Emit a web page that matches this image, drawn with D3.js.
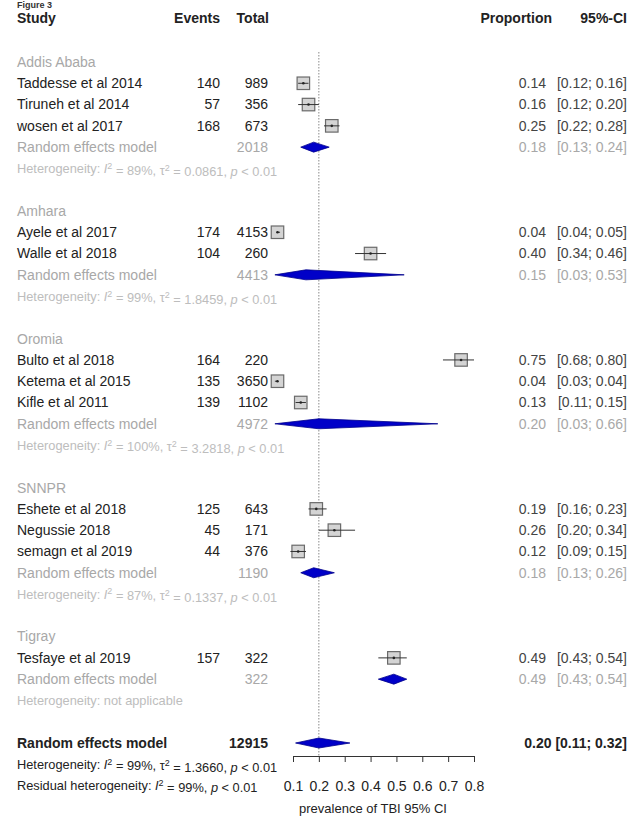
<!DOCTYPE html>
<html><head><meta charset="utf-8">
<script src="https://cdn.jsdelivr.net/npm/d3@7"></script>
<style>
body{margin:0;background:#fff;}
svg{display:block;font-family:"Liberation Sans",Arial,sans-serif;}
</style></head>
<body><svg id="chart" width="634" height="819"></svg>
<script>
// ---------- data ----------
const groups = ["Addis Ababa","Amhara","Oromia","SNNPR","Tigray"];
const studies = ["Taddesse et al 2014","Tiruneh et al 2014","wosen et al 2017",
  "Ayele et al 2017","Walle et al 2018",
  "Bulto et al 2018","Ketema et al 2015","Kifle et al 2011",
  "Eshete et al 2018","Negussie 2018","semagn et al 2019",
  "Tesfaye et al 2019"];
const studyGroup = [0,0,0,1,1,2,2,2,3,3,3,4];
const events = [140,57,168,174,104,164,135,139,125,45,44,157];
const totals = [989,356,673,4153,260,220,3650,1102,643,171,376,322];
const props  = [0.14,0.16,0.25,0.04,0.40,0.75,0.04,0.13,0.19,0.26,0.12,0.49];
const lowers = [0.12,0.12,0.22,0.04,0.34,0.68,0.03,0.11,0.16,0.20,0.09,0.43];
const uppers = [0.16,0.20,0.28,0.05,0.46,0.80,0.04,0.15,0.23,0.34,0.15,0.54];
const propLabels = ["0.14","0.16","0.25","0.04","0.40","0.75","0.04","0.13","0.19","0.26","0.12","0.49"];
const ciLabels = ["[0.12; 0.16]","[0.12; 0.20]","[0.22; 0.28]","[0.04; 0.05]","[0.34; 0.46]","[0.68; 0.80]",
  "[0.03; 0.04]","[0.11; 0.15]","[0.16; 0.23]","[0.20; 0.34]","[0.09; 0.15]","[0.43; 0.54]"];
const groupTotals = [2018,4413,4972,1190,322];
const groupEst = [0.18,0.15,0.20,0.18,0.49];
const groupLow = [0.13,0.03,0.03,0.13,0.43];
const groupUp  = [0.24,0.53,0.66,0.26,0.54];
const groupPropLabels = ["0.18","0.15","0.20","0.18","0.49"];
const groupCiLabels = ["[0.13; 0.24]","[0.03; 0.53]","[0.03; 0.66]","[0.13; 0.26]","[0.43; 0.54]"];
const groupI2 = ["89%","99%","100%","87%",null];
const groupTau2 = ["0.0861","1.8459","3.2818","0.1337",null];
const overallTotal = 12915, overallEst = 0.20, overallLow = 0.11, overallUp = 0.32;
const overallLabel = "0.20", overallCi = "[0.11; 0.32]";
const overallI2 = "99%", overallTau2 = "1.3660", residualI2 = "99%";
const tickValues = [0.1,0.2,0.3,0.4,0.5,0.6,0.7,0.8];
const xLabel = "prevalence of TBI 95% CI";

// ---------- layout ----------
const svg = d3.select("#chart");
const x = d3.scaleLinear().domain([0.1,0.8]).range([293,474]);
const rowY = d3.scaleLinear().domain([0,32]).range([62,743]);
const FS = 14, HFS = 12.8;
const colStudy = 17, colEvents = 220, colTotal = 268, colProp = 546, colCi = 627;
const dark = "#222", midGrey = "#444", grey = "#a8a8a8", lightGrey = "#bdbdbd";

function txt(xp, yp, s, opts={}) {
  return svg.append("text").attr("x", xp).attr("y", yp).attr("dy","0.35em")
    .attr("font-size", opts.size || FS)
    .attr("font-weight", opts.bold ? "bold" : "normal")
    .attr("text-anchor", opts.anchor || "start")
    .attr("fill", opts.color || dark)
    .text(s);
}

// figure caption
svg.append("text").attr("x",17).attr("y",8).attr("font-size",9).attr("font-weight","bold")
  .attr("fill","#333").text("Figure 3");

// headers
const hy = 18;
txt(colStudy, hy, "Study", {bold:true});
txt(colEvents, hy, "Events", {bold:true, anchor:"end"});
txt(colTotal+1, hy, "Total", {bold:true, anchor:"end"});
txt(552, hy, "Proportion", {bold:true, anchor:"end"});
txt(colCi, hy, "95%-CI", {bold:true, anchor:"end"});

// reference line at overall estimate
svg.append("line").attr("x1", x(overallEst)).attr("x2", x(overallEst))
  .attr("y1", 52).attr("y2", 756)
  .attr("stroke","#8a8a8a").attr("stroke-width",1).attr("stroke-dasharray","1.5,1.5");

function hetText(yp, i2, tau2, color, size) {
  const t = svg.append("text").attr("x", colStudy).attr("y", yp).attr("dy","0.35em")
    .attr("font-size", size).attr("fill", color);
  if (i2 === null) { t.text("Heterogeneity: not applicable"); return t; }
  t.append("tspan").text("Heterogeneity: ");
  t.append("tspan").attr("font-style","italic").text("I");
  t.append("tspan").attr("dy","-0.45em").attr("font-size", size*0.7).text("2");
  t.append("tspan").attr("dy","0.45em").text(" = " + i2 + ", \u03c4");
  t.append("tspan").attr("dy","-0.45em").attr("font-size", size*0.7).text("2");
  t.append("tspan").attr("dy","0.45em").text(" = " + tau2 + ", ");
  t.append("tspan").attr("font-style","italic").text("p");
  t.append("tspan").text(" < 0.01");
  return t;
}

function diamond(yc, lo, est, up, h) {
  const pts = [[x(lo),yc],[x(est),yc-h],[x(up),yc],[x(est),yc+h]];
  svg.append("polygon").attr("points", pts.map(p=>p.join(",")).join(" "))
    .attr("fill","#0000c8").attr("stroke","#00008b").attr("stroke-width",0.8);
}

let row = 0;
groups.forEach((g, gi) => {
  txt(colStudy, rowY(row), g, {color: grey});
  row++;
  studies.forEach((s, si) => {
    if (studyGroup[si] !== gi) return;
    const y = rowY(row);
    txt(colStudy, y, s);
    txt(colEvents, y, events[si], {anchor:"end"});
    txt(colTotal, y, totals[si], {anchor:"end"});
    txt(colProp, y, propLabels[si], {anchor:"end", color: midGrey});
    txt(colCi, y, ciLabels[si], {anchor:"end", color: midGrey});
    const sz = 12.5;
    svg.append("rect").attr("x", x(props[si]) - sz/2).attr("y", y - sz/2)
      .attr("width", sz).attr("height", sz)
      .attr("fill","#d4d4d4").attr("stroke","#6a6a6a").attr("stroke-width",1.2);
    svg.append("line").attr("x1", x(lowers[si])).attr("x2", x(uppers[si]))
      .attr("y1", y).attr("y2", y).attr("stroke","#333").attr("stroke-width",1);
    svg.append("circle").attr("cx", x(props[si])).attr("cy", y).attr("r",1.3).attr("fill","#222");
    row++;
  });
  const ry = rowY(row);
  txt(colStudy, ry, "Random effects model", {color: grey});
  txt(colTotal, ry, groupTotals[gi], {anchor:"end", color: grey});
  txt(colProp, ry, groupPropLabels[gi], {anchor:"end", color: grey});
  txt(colCi, ry, groupCiLabels[gi], {anchor:"end", color: grey});
  diamond(ry, groupLow[gi], groupEst[gi], groupUp[gi], 5);
  row++;
  hetText(rowY(row), groupI2[gi], groupTau2[gi], lightGrey, HFS);
  row += 2;
});

// overall
const oy = rowY(row);
txt(colStudy, oy, "Random effects model", {bold:true});
txt(colTotal, oy, overallTotal, {bold:true, anchor:"end"});
txt(colCi, oy, overallLabel + " " + overallCi, {bold:true, anchor:"end"});
diamond(oy, overallLow, overallEst, overallUp, 5);
hetText(rowY(row+1), overallI2, overallTau2, dark, HFS);
{
  const t = svg.append("text").attr("x", colStudy).attr("y", rowY(row+2)).attr("dy","0.35em")
    .attr("font-size", HFS).attr("fill", dark);
  t.append("tspan").text("Residual heterogeneity: ");
  t.append("tspan").attr("font-style","italic").text("I");
  t.append("tspan").attr("dy","-0.45em").attr("font-size", HFS*0.7).text("2");
  t.append("tspan").attr("dy","0.45em").text(" = " + residualI2 + ", ");
  t.append("tspan").attr("font-style","italic").text("p");
  t.append("tspan").text(" < 0.01");
}

// axis
const axis = svg.append("g").attr("transform","translate(0,756)")
  .call(d3.axisBottom(x).tickValues(tickValues).tickSize(6).tickPadding(19)
    .tickFormat(d3.format(".1f")).tickSizeOuter(0));
axis.select(".domain").attr("stroke","#333");
axis.selectAll(".tick line").attr("stroke","#333");
axis.selectAll(".tick text").attr("font-size", 14).attr("fill", dark)
  .attr("font-family", "Liberation Sans, Arial, sans-serif");
txt(373, 808, xLabel, {anchor:"middle", size: 13});
</script></body></html>
